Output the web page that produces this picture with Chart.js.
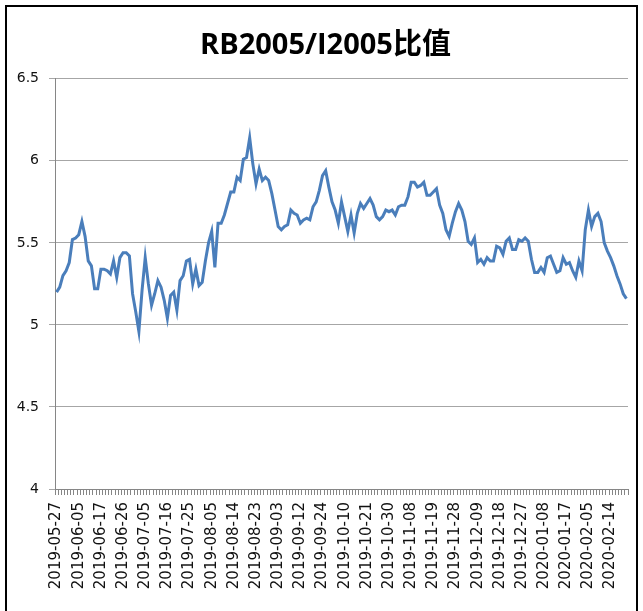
<!DOCTYPE html>
<html>
<head>
<meta charset="utf-8">
<script src="https://cdn.jsdelivr.net/npm/chart.js@4"></script>
<style>
    html, body { margin: 0; padding: 0; background: #fff; }
    #wrap { position: relative; width: 643px; height: 611px; overflow: hidden; }
    #frame { position: absolute; left: 5px; top: 5px; width: 629px; height: 660px; border: 2px solid #000; }
    #ratioChart { position: absolute; left: 0; top: 0; }
</style>
</head>
<body>
<div id="wrap">
    <canvas id="ratioChart" width="643" height="611"></canvas>
    <div id="frame"></div>
</div>
<script>
// trading calendar (weekdays minus exchange holidays)
const startDate = '2019-05-27';
const endDate = '2020-02-21';
const holidays = [
    '2019-06-07', '2019-09-13',
    '2019-10-01', '2019-10-02', '2019-10-03', '2019-10-04', '2019-10-07',
    '2020-01-01', '2020-01-24',
    '2020-01-27', '2020-01-28', '2020-01-29', '2020-01-30', '2020-01-31'
];
const labelEvery = 7;

// RB2005 / I2005 ratio, one value per trading day
const ratio = [
    5.20, 5.23, 5.30, 5.33, 5.38, 5.52, 5.53, 5.55, 5.63, 5.54,
    5.39, 5.36, 5.22, 5.22, 5.34, 5.34, 5.33, 5.31, 5.39, 5.29,
    5.41, 5.44, 5.44, 5.42, 5.19, 5.08, 4.96, 5.21, 5.41, 5.25,
    5.12, 5.19, 5.27, 5.23, 5.15, 5.04, 5.18, 5.20, 5.09, 5.27,
    5.30, 5.39, 5.40, 5.25, 5.34, 5.24, 5.26, 5.39, 5.50, 5.57,
    5.35, 5.62, 5.62, 5.67, 5.74, 5.81, 5.81, 5.90, 5.88, 6.01,
    6.02, 6.14, 5.98, 5.86, 5.95, 5.88, 5.90, 5.88, 5.80, 5.70,
    5.60, 5.58, 5.60, 5.61, 5.70, 5.68, 5.67, 5.62, 5.64, 5.65,
    5.64, 5.72, 5.75, 5.82, 5.91, 5.94, 5.84, 5.75, 5.70, 5.62,
    5.75, 5.66, 5.57, 5.67, 5.56, 5.68, 5.74, 5.71, 5.74, 5.77,
    5.73, 5.66, 5.64, 5.66, 5.70, 5.69, 5.70, 5.67, 5.72, 5.73,
    5.73, 5.78, 5.87, 5.87, 5.84, 5.85, 5.87, 5.79, 5.79, 5.81,
    5.83, 5.73, 5.68, 5.58, 5.54, 5.62, 5.69, 5.74, 5.70, 5.63,
    5.51, 5.49, 5.53, 5.38, 5.40, 5.37, 5.41, 5.39, 5.39, 5.48,
    5.47, 5.43, 5.51, 5.53, 5.46, 5.46, 5.52, 5.51, 5.53, 5.51,
    5.40, 5.32, 5.32, 5.35, 5.32, 5.41, 5.42, 5.37, 5.32, 5.33,
    5.41, 5.37, 5.38, 5.33, 5.29, 5.39, 5.33, 5.58, 5.70, 5.60,
    5.66, 5.68, 5.63, 5.50, 5.45, 5.41, 5.36, 5.30, 5.25, 5.19, 5.16
];

const yMin = 4;
const yMax = 6.5;
const yStep = 0.5;

function tradingDays(from, to, skip) {
    const out = [];
    const d = new Date(from + 'T00:00:00Z');
    const end = new Date(to + 'T00:00:00Z');
    while (d <= end) {
        const s = d.toISOString().slice(0, 10);
        const wd = d.getUTCDay();
        if (wd !== 0 && wd !== 6 && skip.indexOf(s) === -1) out.push(s);
        d.setUTCDate(d.getUTCDate() + 1);
    }
    return out;
}

const tradeDates = tradingDays(startDate, endDate, holidays);

const axisColor = '#868686';
const gridColor = '#a6a6a6';
const tickFont = "'DejaVu Sans', sans-serif";

const ctx = document.getElementById('ratioChart').getContext('2d');
new Chart(ctx, {
    type: 'line',
    data: {
        labels: tradeDates,
        datasets: [{
            data: ratio,
            borderColor: '#4a7ebb',
            borderWidth: 3,
            pointRadius: 0,
            tension: 0,
            fill: false
        }]
    },
    options: {
        responsive: false,
        animation: false,
        devicePixelRatio: 1,
        layout: {
            padding: { top: 10, right: 7, left: 15, bottom: 0 }
        },
        plugins: {
            legend: { display: false },
            tooltip: { enabled: false },
            title: {
                display: true,
                text: 'RB2005/I2005比值',
                color: '#000',
                font: { family: "'Open Sans', 'Noto Sans CJK SC', sans-serif", size: 29, weight: 'bold', lineHeight: 1.2 },
                padding: { top: 18, bottom: 16 }
            }
        },
        scales: {
            x: {
                offset: true,
                grid: {
                    display: true,
                    offset: true,
                    drawOnChartArea: false,
                    color: axisColor,
                    tickLength: 6
                },
                border: { color: axisColor },
                ticks: {
                    autoSkip: false,
                    maxRotation: 90,
                    minRotation: 90,
                    padding: 7,
                    color: '#111',
                    font: { family: tickFont, size: 15 },
                    callback: function(value, index) {
                        return index % labelEvery === 0 ? tradeDates[index] : '';
                    }
                },
                afterFit: function(scale) {
                    scale.height = 122;
                    scale.paddingLeft = 0;
                    scale.paddingRight = 15;
                }
            },
            y: {
                min: yMin,
                max: yMax,
                grid: { color: gridColor, tickLength: 6 },
                border: { color: axisColor },
                ticks: {
                    stepSize: yStep,
                    padding: 10,
                    color: '#111',
                    font: { family: tickFont, size: 14 },
                    callback: function(value) { return String(value); }
                },
                afterFit: function(scale) { scale.width = 40; }
            }
        }
    }
});
</script>
</body>
</html>
